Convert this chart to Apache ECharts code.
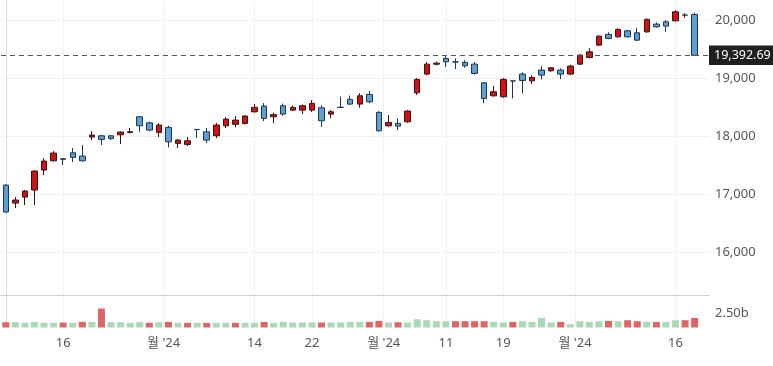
<!DOCTYPE html>
<html>
<head>
<meta charset="utf-8">
<script src="https://cdn.jsdelivr.net/npm/echarts@6/dist/echarts.min.js"></script>
<style>
html,body{margin:0;padding:0;background:#fff;}
#chart{width:773px;height:366px;}
</style>
</head>
<body>
<div id="chart"></div>
<script>
// daily candles
var opens  = [17155,16845,16948,17069,17414,17574,17610,17712,17655,17983,18005,18005,18022,18060,18333,18229,18064,18150,17874,17857,
              18115,18074,18005,18178,18202,18219,18419,18517,18333,18523,18448,18448,18448,18488,18379,18497,18633,18552,18719,18409,
              18178,18219,18247,18747,19069,19240,19339,19280,19271,19241,18919,18695,18678,18952,19069,18953,19138,19126,19138,19069,
              19241,19357,19569,19753,19712,19816,19781,19798,19931,19971,19988,20088,20098];
var closes = [16690,16897,17052,17397,17569,17707,17600,17633,17574,18017,17943,17960,18069,18075,18178,18103,18190,17902,17931,17919,
              18113,17931,18190,18293,18276,18345,18495,18305,18370,18380,18495,18523,18564,18264,18419,18495,18552,18695,18591,18092,
              18236,18172,18431,18978,19241,19258,19281,19278,19212,19081,18650,18764,18978,18950,18960,19012,19052,19178,19069,19207,
              19397,19453,19724,19684,19840,19712,19655,20012,19885,19897,20143,20086,19392.69];
var lows   = [16680,16759,16810,16810,17328,17560,17500,17552,17560,17931,17845,17930,17862,18050,18074,18086,17983,17805,17793,17830,
              17966,17880,17966,18138,18150,18200,18405,18259,18224,18350,18430,18380,18414,18160,18310,18490,18535,18490,18570,18080,
              18160,18103,18230,18710,19050,19220,19190,19155,19180,19060,18569,18680,18660,18650,18736,18900,18978,19110,18983,19050,
              19225,19340,19550,19670,19700,19700,19640,19780,19870,19800,19980,20040,19380];
var highs  = [17165,16948,17070,17410,17621,17741,17620,17793,17845,18086,18020,18020,18080,18138,18345,18250,18224,18178,17950,17983,
              18118,18138,18224,18328,18345,18362,18552,18569,18405,18560,18530,18545,18621,18530,18448,18678,18700,18740,18776,18430,
              18362,18305,18448,19000,19276,19285,19379,19339,19310,19276,18930,18867,19000,18955,19100,19050,19207,19190,19170,19230,
              19410,19517,19740,19790,19860,19830,19867,20030,19960,20000,20170,20120,20130];
// volume in billions
var volumes = [0.91,0.91,0.80,0.96,0.80,0.80,0.85,0.80,0.96,0.96,3.25,0.91,0.91,0.80,0.91,0.80,0.91,0.96,0.80,0.80,
               0.80,0.80,0.80,0.80,0.80,0.80,0.80,0.96,0.80,0.96,0.85,0.85,0.85,0.85,0.85,0.85,0.96,0.96,0.96,1.13,
               0.85,0.91,0.85,1.42,1.25,1.08,1.08,1.08,1.08,1.08,1.08,0.96,0.85,0.96,1.08,0.96,1.65,0.85,0.96,0.57,
               1.08,0.96,1.08,1.13,1.08,1.25,1.08,0.96,0.96,0.96,1.25,1.25,1.65];
var prevClose = 17200; // close before the first candle
var lastPrice = 19392.69;
var priceTicks = [16000, 17000, 18000, 19000, 20000];
var volTicks = [2.5];
var tickPos  = [6, 16.5, 26, 32, 39.5, 46, 52, 59.5, 70];
var tickText = ['16', "월 '24", '14', '22', "월 '24", '11', '19', "월 '24", '16'];

var FONT = '"Noto Sans", "Noto Sans CJK KR", sans-serif';
var cats = [];
for (var i = 0; i <= opens.length; i++) cats.push(String(i)); // one spare slot on the right

var candles = opens.map(function (o, i) { return [o, closes[i], lows[i], highs[i]]; });
var volData = volumes.map(function (v, i) {
	var before = i === 0 ? prevClose : closes[i - 1];
	return {
		value: v * 1e9,
		itemStyle: { color: closes[i] < before ? '#e06464' : '#a9d9b6' }
	};
});

var myChart = echarts.init(document.getElementById('chart'));
var option = {
	animation: false,
	grid: [
		{ left: 1, right: 64, top: 1, height: 294 },
		{ left: 1, right: 64, top: 296, bottom: 38.5 }
	],
	xAxis: [
		{
			type: 'category', gridIndex: 0, data: cats, position: 'bottom',
			axisLine: { show: true, lineStyle: { color: '#cfcfcf' } },
			axisTick: { show: false }, axisLabel: { show: false }, splitLine: { show: false }
		},
		{
			type: 'value', gridIndex: 0, position: 'top', min: -0.5, max: opens.length + 0.5,
			axisLine: { show: false }, axisLabel: { show: false },
			axisTick: { show: false, customValues: tickPos },
			splitLine: { show: true, lineStyle: { color: '#f0f0f0' } }
		},
		{
			type: 'category', gridIndex: 1, data: cats, position: 'top',
			axisLine: { show: false }, axisTick: { show: false }, axisLabel: { show: false }, splitLine: { show: false }
		},
		{
			type: 'value', gridIndex: 1, position: 'bottom', min: -0.5, max: opens.length + 0.5,
			axisLine: { show: false },
			axisTick: { show: false, customValues: tickPos },
			axisLabel: {
				customValues: tickPos, margin: 9, color: '#555', fontSize: 13, fontFamily: FONT,
				formatter: function (v) { return tickText[tickPos.indexOf(v)]; }
			},
			splitLine: { show: true, lineStyle: { color: '#f0f0f0' } }
		}
	],
	yAxis: [
		{
			type: 'value', gridIndex: 0, position: 'right', scale: true,
			min: 15259, max: 20330,
			axisLine: { show: true, lineStyle: { color: '#d8d8d8' } },
			axisTick: { show: false, customValues: priceTicks },
			axisLabel: {
				customValues: priceTicks, margin: 6, color: '#555', fontSize: 13, fontFamily: FONT,
				formatter: function (v) { return v.toLocaleString('en-US'); }
			},
			splitLine: { show: true, lineStyle: { color: '#f0f0f0' } }
		},
		{
			type: 'value', gridIndex: 1, position: 'right', min: 0, max: 5.4e9,
			axisLine: { show: true, lineStyle: { color: '#d8d8d8' } },
			axisTick: { show: false, customValues: volTicks.map(function (v) { return v * 1e9; }) },
			axisLabel: {
				customValues: volTicks.map(function (v) { return v * 1e9; }),
				margin: 6, color: '#555', fontSize: 13, fontFamily: FONT,
				formatter: function (v) { return (v / 1e9).toFixed(2) + 'b'; }
			},
			splitLine: { show: false }
		}
	],
	series: [
		{
			type: 'candlestick', xAxisIndex: 0, yAxisIndex: 0,
			data: candles, barWidth: 6,
			itemStyle: {
				color: '#d01212', color0: '#5b9fd6',
				borderColor: '#3a1010', borderColor0: '#1d3650', borderWidth: 1
			},
			markLine: {
				silent: true, symbol: ['none', 'none'],
				lineStyle: { color: '#555', type: [5, 4], width: 1 },
				label: {
					position: 'end', distance: 0,
					formatter: lastPrice.toLocaleString('en-US', { minimumFractionDigits: 2 }),
					backgroundColor: '#1f1f1f', color: '#fff',
					fontSize: 12.5, fontFamily: FONT, padding: [4, 4, 3, 5]
				},
				data: [{ yAxis: lastPrice }]
			}
		},
		{
			type: 'bar', xAxisIndex: 2, yAxisIndex: 1,
			data: volData, barWidth: 7
		}
	]
};
myChart.setOption(option);
window.addEventListener('resize', function () {
	myChart.resize();
});
</script>
</body>
</html>
